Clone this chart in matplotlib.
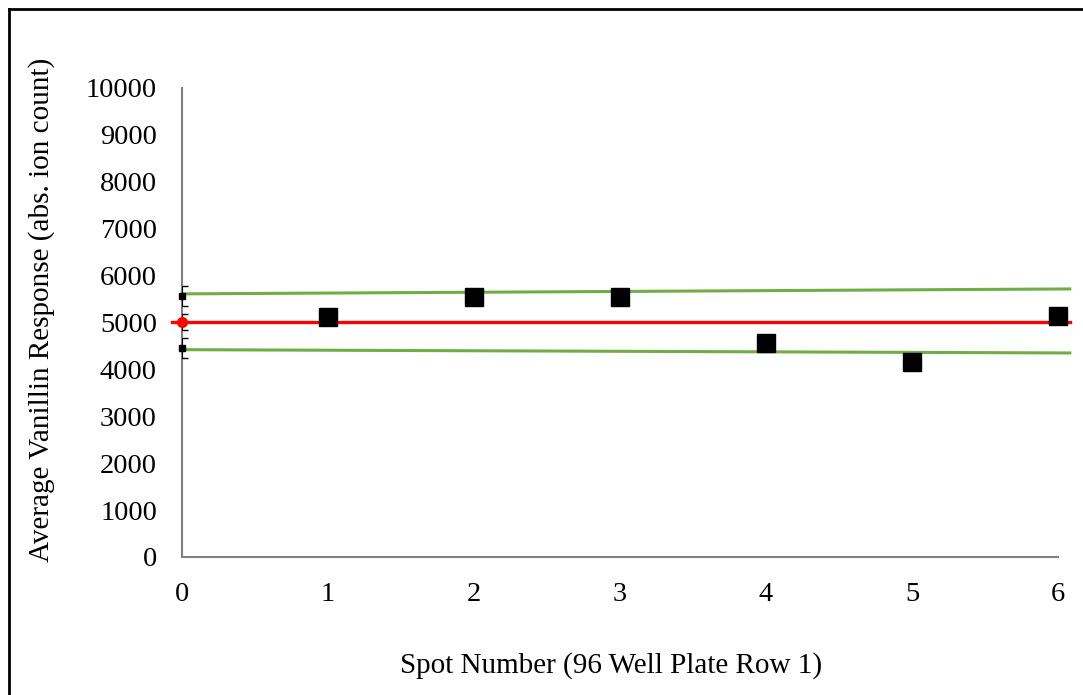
import matplotlib
matplotlib.use('Agg')
import matplotlib.pyplot as plt
from matplotlib.lines import Line2D

# data
spots = [1, 2, 3, 4, 5, 6]
response = [5120, 5545, 5545, 4565, 4160, 5140]

mean_x = [-0.07, 6.08]
mean_y = [5010, 5010]
upper_x = [0, 6.08]
upper_y = [5610, 5715]
lower_x = [0, 6.08]
lower_y = [4420, 4350]

# small points sitting on the y axis with their error bars
axis_pts_y = [5565, 4456]
axis_err = [210, 220]
mean_err = 170

yticks = [0, 1000, 2000, 3000, 4000, 5000, 6000, 7000, 8000, 9000, 10000]
xticks = [0, 1, 2, 3, 4, 5, 6]

GREEN = '#70AD47'
RED = '#FF0000'
GREY = '#808080'


def main():
	plt.rcParams['font.family'] = ['Liberation Serif', 'DejaVu Serif']
	fig = plt.figure(figsize=(10.83, 6.95), dpi=100)
	ax = fig.add_axes([0.168, 0.1986, 0.809, 0.6748])

	# green limit lines and red mean line
	ax.plot(upper_x, upper_y, color=GREEN, lw=2.2, clip_on=False, zorder=2)
	ax.plot(lower_x, lower_y, color=GREEN, lw=2.2, clip_on=False, zorder=2)
	ax.plot(mean_x, mean_y, color=RED, lw=2.4, clip_on=False, zorder=3)
	ax.plot([0], [mean_y[0]], 'o', color=RED, ms=7, clip_on=False, zorder=4)

	# error bars at x=0 (left half clipped by the axes)
	ax.errorbar([0, 0], axis_pts_y, yerr=axis_err, fmt='none', ecolor='black',
		elinewidth=0.8, capsize=4, capthick=1.0, zorder=3)
	ax.errorbar([0], [mean_y[0]], yerr=mean_err, fmt='none', ecolor='black',
		elinewidth=0.8, capsize=4, capthick=1.0, zorder=3)
	ax.plot([0, 0], axis_pts_y, 's', color='black', ms=5, clip_on=False, zorder=5)

	# the measured spots
	ax.plot(spots, response, 's', color='black', ms=13, clip_on=False, zorder=6)

	ax.set_xlim(0, 6)
	ax.set_ylim(0, 10000)
	ax.set_xticks(xticks)
	ax.set_yticks(yticks)
	ax.tick_params(length=0, labelsize=20.5, colors='black')
	ax.tick_params(axis='y', pad=18)
	ax.tick_params(axis='x', pad=18)

	for side in ['top', 'right']:
		ax.spines[side].set_visible(False)
	for side in ['left', 'bottom']:
		ax.spines[side].set_color(GREY)
		ax.spines[side].set_linewidth(1.5)

	ax.set_xlabel('Spot Number (96 Well Plate Row 1)', fontsize=21)
	ax.set_ylabel('Average Vanillin Response (abs. ion count)', fontsize=21)
	ax.xaxis.set_label_coords(0.49, -0.203)
	ax.yaxis.set_label_coords(-0.145, 0.527)

	# frame of the chart area (only top and left show in the crop)
	fig.add_artist(Line2D([0.0083, 1.0], [0.987, 0.987], color='black', lw=2.0))
	fig.add_artist(Line2D([0.0083, 0.0083], [0.0, 0.987], color='black', lw=2.0))

	fig.savefig('out.png', dpi=100)


if __name__ == "__main__":
	main()
